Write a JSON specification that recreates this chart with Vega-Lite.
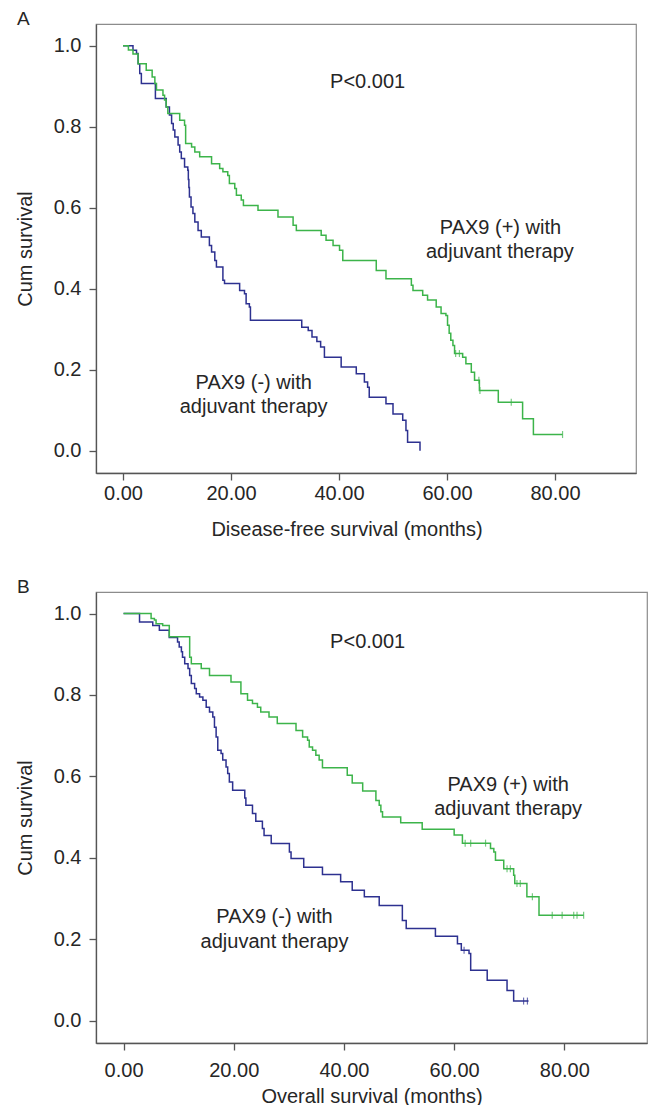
{
  "$schema": "https://vega.github.io/schema/vega-lite/v6.json",
  "background": "white",
  "padding": {"left": 14, "top": 9, "right": 0, "bottom": 0},
  "spacing": 37,
  "config": {
    "font": "Liberation Sans",
    "view": {"stroke": "#8c8c8c", "strokeWidth": 1.2},
    "axis": {"domainColor": "#555555", "domainWidth": 1.3, "tickColor": "#555555", "tickSize": 7, "tickWidth": 1.3, "labelFontSize": 20, "labelColor": "#262626", "titleFontSize": 20, "titleFontWeight": "normal", "titleColor": "#262626", "grid": false, "labelFont": "Liberation Sans", "titleFont": "Liberation Sans"},
    "title": {"fontSize": 19, "fontWeight": "normal", "anchor": "start", "frame": "group", "color": "#262626", "font": "Liberation Sans"}
  },
  "datasets": {
    "curvesA": [
      {"g":"n","t":0,"s":1},{"g":"n","t":1.85,"s":0.989},{"g":"n","t":2.5,"s":0.981},{"g":"n","t":2.8,"s":0.956},{"g":"n","t":3.1,"s":0.932},{"g":"n","t":3.4,"s":0.907},{"g":"n","t":6.0,"s":0.87},{"g":"n","t":8.0,"s":0.849},{"g":"n","t":8.6,"s":0.829},{"g":"n","t":9.0,"s":0.808},{"g":"n","t":9.3,"s":0.792},{"g":"n","t":9.6,"s":0.775},{"g":"n","t":10.2,"s":0.755},{"g":"n","t":10.5,"s":0.738},{"g":"n","t":10.8,"s":0.722},{"g":"n","t":11.4,"s":0.701},{"g":"n","t":12.0,"s":0.693},{"g":"n","t":12.1,"s":0.67},{"g":"n","t":12.2,"s":0.65},{"g":"n","t":12.3,"s":0.627},{"g":"n","t":12.6,"s":0.602},{"g":"n","t":12.95,"s":0.586},{"g":"n","t":13.3,"s":0.565},{"g":"n","t":13.9,"s":0.544},{"g":"n","t":14.5,"s":0.528},{"g":"n","t":16.0,"s":0.507},{"g":"n","t":16.4,"s":0.491},{"g":"n","t":17.0,"s":0.47},{"g":"n","t":17.3,"s":0.454},{"g":"n","t":18.5,"s":0.421},{"g":"n","t":18.8,"s":0.413},{"g":"n","t":21.6,"s":0.396},{"g":"n","t":22.5,"s":0.388},{"g":"n","t":22.8,"s":0.363},{"g":"n","t":23.4,"s":0.355},{"g":"n","t":23.6,"s":0.322},{"g":"n","t":33.1,"s":0.305},{"g":"n","t":34.3,"s":0.297},{"g":"n","t":35.0,"s":0.281},{"g":"n","t":35.9,"s":0.27},{"g":"n","t":36.6,"s":0.256},{"g":"n","t":37.3,"s":0.231},{"g":"n","t":40.4,"s":0.207},{"g":"n","t":43.2,"s":0.19},{"g":"n","t":44.7,"s":0.17},{"g":"n","t":45.3,"s":0.157},{"g":"n","t":45.6,"s":0.132},{"g":"n","t":48.7,"s":0.116},{"g":"n","t":50.0,"s":0.091},{"g":"n","t":51.8,"s":0.075},{"g":"n","t":52.4,"s":0.05},{"g":"n","t":52.7,"s":0.021},{"g":"n","t":55.0,"s":0.0},
      {"g":"p","t":0,"s":1},{"g":"p","t":1.0,"s":0.99},{"g":"p","t":1.85,"s":0.98},{"g":"p","t":2.8,"s":0.956},{"g":"p","t":4.3,"s":0.94},{"g":"p","t":5.4,"s":0.923},{"g":"p","t":5.9,"s":0.907},{"g":"p","t":6.2,"s":0.891},{"g":"p","t":7.4,"s":0.878},{"g":"p","t":7.7,"s":0.866},{"g":"p","t":8.0,"s":0.849},{"g":"p","t":8.3,"s":0.833},{"g":"p","t":10.5,"s":0.816},{"g":"p","t":11.4,"s":0.804},{"g":"p","t":11.6,"s":0.759},{"g":"p","t":12.7,"s":0.75},{"g":"p","t":13.3,"s":0.738},{"g":"p","t":14.2,"s":0.726},{"g":"p","t":16.4,"s":0.709},{"g":"p","t":17.9,"s":0.697},{"g":"p","t":18.5,"s":0.689},{"g":"p","t":19.4,"s":0.68},{"g":"p","t":19.7,"s":0.66},{"g":"p","t":20.7,"s":0.648},{"g":"p","t":21.0,"s":0.631},{"g":"p","t":21.9,"s":0.619},{"g":"p","t":22.3,"s":0.606},{"g":"p","t":25.0,"s":0.594},{"g":"p","t":28.7,"s":0.577},{"g":"p","t":31.5,"s":0.557},{"g":"p","t":32.1,"s":0.544},{"g":"p","t":36.7,"s":0.532},{"g":"p","t":37.6,"s":0.52},{"g":"p","t":38.9,"s":0.507},{"g":"p","t":40.1,"s":0.495},{"g":"p","t":40.7,"s":0.47},{"g":"p","t":46.9,"s":0.445},{"g":"p","t":48.7,"s":0.425},{"g":"p","t":53.4,"s":0.409},{"g":"p","t":53.7,"s":0.396},{"g":"p","t":55.5,"s":0.384},{"g":"p","t":56.4,"s":0.372},{"g":"p","t":58.0,"s":0.355},{"g":"p","t":58.9,"s":0.339},{"g":"p","t":59.8,"s":0.334},{"g":"p","t":60.1,"s":0.31},{"g":"p","t":60.4,"s":0.29},{"g":"p","t":60.7,"s":0.273},{"g":"p","t":61.1,"s":0.26},{"g":"p","t":61.4,"s":0.24},{"g":"p","t":62.9,"s":0.231},{"g":"p","t":63.5,"s":0.215},{"g":"p","t":64.5,"s":0.194},{"g":"p","t":65.1,"s":0.174},{"g":"p","t":66.0,"s":0.149},{"g":"p","t":69.5,"s":0.12},{"g":"p","t":74.0,"s":0.079},{"g":"p","t":76.0,"s":0.04},{"g":"p","t":81.4,"s":0.04}
    ],
    "censA": [
      {"g":"p","t":61.6,"s":0.24},{"g":"p","t":62.3,"s":0.24},{"g":"p","t":65.9,"s":0.174},{"g":"p","t":66.1,"s":0.149},{"g":"p","t":71.9,"s":0.12},{"g":"p","t":81.4,"s":0.04}
    ],
    "textA": [
      {"t":45.3,"s":0.91,"label":"P<0.001"},
      {"t":69.9,"s":0.551,"label":"PAX9 (+) with"},
      {"t":69.8,"s":0.491,"label":"adjuvant therapy"},
      {"t":24.2,"s":0.167,"label":"PAX9 (-) with"},
      {"t":24.2,"s":0.108,"label":"adjuvant therapy"}
    ],
    "curvesB": [
      {"g":"n","t":0,"s":1},{"g":"n","t":2.9,"s":0.979},{"g":"n","t":5.3,"s":0.971},{"g":"n","t":6.5,"s":0.959},{"g":"n","t":8.3,"s":0.941},{"g":"n","t":9.8,"s":0.93},{"g":"n","t":10.1,"s":0.918},{"g":"n","t":10.5,"s":0.906},{"g":"n","t":10.7,"s":0.893},{"g":"n","t":11.1,"s":0.877},{"g":"n","t":11.7,"s":0.865},{"g":"n","t":12.0,"s":0.848},{"g":"n","t":12.3,"s":0.828},{"g":"n","t":12.9,"s":0.816},{"g":"n","t":13.2,"s":0.803},{"g":"n","t":13.8,"s":0.795},{"g":"n","t":14.4,"s":0.787},{"g":"n","t":15.0,"s":0.77},{"g":"n","t":15.6,"s":0.758},{"g":"n","t":16.2,"s":0.746},{"g":"n","t":16.5,"s":0.721},{"g":"n","t":16.8,"s":0.697},{"g":"n","t":17.1,"s":0.664},{"g":"n","t":17.7,"s":0.656},{"g":"n","t":18.0,"s":0.64},{"g":"n","t":18.6,"s":0.623},{"g":"n","t":18.9,"s":0.607},{"g":"n","t":19.2,"s":0.586},{"g":"n","t":19.8,"s":0.566},{"g":"n","t":22.0,"s":0.547},{"g":"n","t":22.2,"s":0.529},{"g":"n","t":23.4,"s":0.509},{"g":"n","t":24.0,"s":0.49},{"g":"n","t":25.2,"s":0.472},{"g":"n","t":25.5,"s":0.455},{"g":"n","t":26.8,"s":0.435},{"g":"n","t":30.1,"s":0.414},{"g":"n","t":30.4,"s":0.398},{"g":"n","t":32.7,"s":0.377},{"g":"n","t":36.1,"s":0.359},{"g":"n","t":39.4,"s":0.341},{"g":"n","t":41.5,"s":0.32},{"g":"n","t":43.7,"s":0.304},{"g":"n","t":46.4,"s":0.283},{"g":"n","t":50.6,"s":0.246},{"g":"n","t":51.3,"s":0.226},{"g":"n","t":56.6,"s":0.207},{"g":"n","t":60.6,"s":0.189},{"g":"n","t":61.3,"s":0.173},{"g":"n","t":62.7,"s":0.165},{"g":"n","t":63.0,"s":0.124},{"g":"n","t":66.0,"s":0.099},{"g":"n","t":69.6,"s":0.074},{"g":"n","t":70.8,"s":0.048},{"g":"n","t":73.5,"s":0.048},
      {"g":"p","t":0,"s":1},{"g":"p","t":5.0,"s":0.988},{"g":"p","t":5.6,"s":0.984},{"g":"p","t":5.9,"s":0.975},{"g":"p","t":7.1,"s":0.971},{"g":"p","t":8.3,"s":0.943},{"g":"p","t":12.0,"s":0.893},{"g":"p","t":12.3,"s":0.877},{"g":"p","t":14.1,"s":0.865},{"g":"p","t":15.6,"s":0.848},{"g":"p","t":19.5,"s":0.832},{"g":"p","t":21.3,"s":0.803},{"g":"p","t":22.5,"s":0.787},{"g":"p","t":23.4,"s":0.779},{"g":"p","t":24.3,"s":0.77},{"g":"p","t":24.9,"s":0.758},{"g":"p","t":26.4,"s":0.746},{"g":"p","t":27.9,"s":0.73},{"g":"p","t":31.3,"s":0.713},{"g":"p","t":32.5,"s":0.697},{"g":"p","t":33.4,"s":0.689},{"g":"p","t":33.7,"s":0.672},{"g":"p","t":34.3,"s":0.664},{"g":"p","t":34.9,"s":0.652},{"g":"p","t":35.5,"s":0.64},{"g":"p","t":36.1,"s":0.621},{"g":"p","t":40.6,"s":0.603},{"g":"p","t":41.5,"s":0.584},{"g":"p","t":43.4,"s":0.564},{"g":"p","t":45.8,"s":0.541},{"g":"p","t":46.4,"s":0.529},{"g":"p","t":46.7,"s":0.513},{"g":"p","t":47.0,"s":0.5},{"g":"p","t":50.3,"s":0.486},{"g":"p","t":54.2,"s":0.47},{"g":"p","t":60.0,"s":0.456},{"g":"p","t":61.5,"s":0.436},{"g":"p","t":66.6,"s":0.423},{"g":"p","t":67.2,"s":0.414},{"g":"p","t":67.5,"s":0.394},{"g":"p","t":69.0,"s":0.373},{"g":"p","t":70.8,"s":0.357},{"g":"p","t":71.0,"s":0.337},{"g":"p","t":73.2,"s":0.304},{"g":"p","t":75.4,"s":0.259},{"g":"p","t":83.5,"s":0.259}
    ],
    "censB": [
      {"g":"n","t":61.8,"s":0.173},{"g":"n","t":72.6,"s":0.048},{"g":"n","t":73.3,"s":0.048},
      {"g":"p","t":62.0,"s":0.436},{"g":"p","t":63.0,"s":0.436},{"g":"p","t":65.7,"s":0.436},{"g":"p","t":69.6,"s":0.373},{"g":"p","t":70.2,"s":0.373},{"g":"p","t":71.4,"s":0.337},{"g":"p","t":72.0,"s":0.337},{"g":"p","t":74.2,"s":0.304},{"g":"p","t":77.8,"s":0.259},{"g":"p","t":79.6,"s":0.259},{"g":"p","t":81.7,"s":0.259},{"g":"p","t":82.3,"s":0.259},{"g":"p","t":83.5,"s":0.259}
    ],
    "textB": [
      {"t":44.3,"s":0.931,"label":"P<0.001"},
      {"t":69.8,"s":0.579,"label":"PAX9 (+) with"},
      {"t":69.8,"s":0.519,"label":"adjuvant therapy"},
      {"t":27.4,"s":0.254,"label":"PAX9 (-) with"},
      {"t":27.4,"s":0.192,"label":"adjuvant therapy"}
    ]
  },
  "vconcat": [
    {
      "width": 540,
      "height": 449,
      "title": {"text": "A", "dx": -79, "offset": -5},
      "layer": [
        {
          "data": {"name": "curvesA"},
          "mark": {"type": "line", "interpolate": "step-after", "strokeWidth": 1.5},
          "encoding": {
            "x": {"field": "t", "type": "quantitative", "scale": {"domain": [-5, 95], "nice": false, "zero": false}, "axis": {"values": [0, 20, 40, 60, 80], "format": ".2f", "title": "Disease-free survival (months)", "labelPadding": 3, "titlePadding": 16, "titleX": 250.5}},
            "y": {"field": "s", "type": "quantitative", "scale": {"domain": [-0.055, 1.054], "nice": false, "zero": false}, "axis": {"values": [0, 0.2, 0.4, 0.6, 0.8, 1], "format": ".1f", "title": "Cum survival", "labelPadding": 8, "titlePadding": 18}},
            "color": {"field": "g", "type": "nominal", "scale": {"domain": ["n", "p"], "range": ["#2d3190", "#3cb44a"]}, "legend": null}
          }
        },
        {
          "data": {"name": "censA"},
          "mark": {"type": "tick", "orient": "vertical", "size": 7, "thickness": 1.2},
          "encoding": {
            "x": {"field": "t", "type": "quantitative"},
            "y": {"field": "s", "type": "quantitative"},
            "color": {"field": "g", "type": "nominal", "legend": null}
          }
        },
        {
          "data": {"name": "textA"},
          "mark": {"type": "text", "fontSize": 20, "color": "#262626", "font": "Liberation Sans"},
          "encoding": {
            "x": {"field": "t", "type": "quantitative"},
            "y": {"field": "s", "type": "quantitative"},
            "text": {"field": "label"}
          }
        }
      ]
    },
    {
      "width": 551,
      "height": 451,
      "title": {"text": "B", "dx": -79, "offset": -5},
      "layer": [
        {
          "data": {"name": "curvesB"},
          "mark": {"type": "line", "interpolate": "step-after", "strokeWidth": 1.5},
          "encoding": {
            "x": {"field": "t", "type": "quantitative", "scale": {"domain": [-5, 95], "nice": false, "zero": false}, "axis": {"values": [0, 20, 40, 60, 80], "format": ".2f", "title": "Overall survival (months)", "labelPadding": 10, "titlePadding": 6}},
            "y": {"field": "s", "type": "quantitative", "scale": {"domain": [-0.055, 1.053], "nice": false, "zero": false}, "axis": {"values": [0, 0.2, 0.4, 0.6, 0.8, 1], "format": ".1f", "title": "Cum survival", "labelPadding": 8, "titlePadding": 18}},
            "color": {"field": "g", "type": "nominal", "scale": {"domain": ["n", "p"], "range": ["#2d3190", "#3cb44a"]}, "legend": null}
          }
        },
        {
          "data": {"name": "censB"},
          "mark": {"type": "tick", "orient": "vertical", "size": 7, "thickness": 1.2},
          "encoding": {
            "x": {"field": "t", "type": "quantitative"},
            "y": {"field": "s", "type": "quantitative"},
            "color": {"field": "g", "type": "nominal", "legend": null}
          }
        },
        {
          "data": {"name": "textB"},
          "mark": {"type": "text", "fontSize": 20, "color": "#262626", "font": "Liberation Sans"},
          "encoding": {
            "x": {"field": "t", "type": "quantitative"},
            "y": {"field": "s", "type": "quantitative"},
            "text": {"field": "label"}
          }
        }
      ]
    }
  ]
}
